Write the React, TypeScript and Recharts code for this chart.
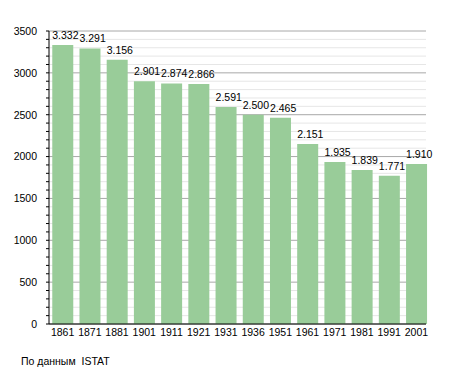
import React from 'react';
import { BarChart, Bar, XAxis, YAxis, CartesianGrid, LabelList } from 'recharts';

const years = ['1861', '1871', '1881', '1901', '1911', '1921', '1931', '1936', '1951', '1961', '1971', '1981', '1991', '2001'];
const population = [3332, 3291, 3156, 2901, 2874, 2866, 2591, 2500, 2465, 2151, 1935, 1839, 1771, 1910];
const yMajorTicks = [0, 500, 1000, 1500, 2000, 2500, 3000, 3500];
const yAllTicks = [0, 100, 200, 300, 400, 500, 600, 700, 800, 900, 1000, 1100, 1200, 1300, 1400, 1500, 1600, 1700, 1800, 1900, 2000, 2100, 2200, 2300, 2400, 2500, 2600, 2700, 2800, 2900, 3000, 3100, 3200, 3300, 3400, 3500];
const yMinorGrid = [100, 200, 300, 400, 600, 700, 800, 900, 1100, 1200, 1300, 1400, 1600, 1700, 1800, 1900, 2100, 2200, 2300, 2400, 2600, 2700, 2800, 2900, 3100, 3200, 3300, 3400];
const sourceText = 'По данным\u00a0\u00a0ISTAT';

const data = years.map((year, i) => ({ year, value: population[i] }));

const FONT = '"Liberation Sans", Arial, Helvetica, sans-serif';
const FS = 10.5;

const fmt = (v: number) => String(v).replace(/\B(?=(\d{3})+(?!\d))/g, '.');

const YTick = (props: any) => {
  const { x, y, payload } = props;
  if (payload.value % 500 !== 0) return <g />;
  return (
    <text x={x} y={y} dy={3.8} textAnchor="end" fontSize={FS} fontFamily={FONT} fill="#000">
      {payload.value}
    </text>
  );
};

const XTick = (props: any) => {
  const { x, y, payload } = props;
  return (
    <text x={x} y={y} dy={8} textAnchor="middle" fontSize={FS} fontFamily={FONT} fill="#000">
      {payload.value}
    </text>
  );
};

const ValueLabel = (props: any) => {
  const { x, y, value } = props;
  return (
    <text x={x} y={y - 6} fontSize={FS} fontFamily={FONT} fill="#000">
      {fmt(value)}
    </text>
  );
};

export default function App() {
  return (
    <div style={{ position: 'relative', width: 447, height: 365 }}>
      <BarChart
        width={447}
        height={365}
        data={data}
        margin={{ top: 23, right: 29, bottom: 29, left: 0 }}
        barCategoryGap="12%"
      >
        <CartesianGrid vertical={false} horizontalValues={yMinorGrid} stroke="#e6e6e6" strokeWidth={1} />
        <CartesianGrid vertical={false} horizontalValues={yMajorTicks} stroke="#a8a8a8" strokeWidth={1} />
        <XAxis
          dataKey="year"
          height={20}
          axisLine={{ stroke: '#000' }}
          tickLine={false}
          tickSize={0}
          tick={<XTick />}
          tickMargin={4}
          interval={0}
          padding={{ left: 0, right: -4 }}
        />
        <YAxis
          width={41}
          domain={[0, 3500]}
          ticks={yAllTicks}
          interval={0}
          axisLine={{ stroke: '#000' }}
          tickLine={{ stroke: '#000' }}
          tickSize={3}
          tickMargin={9}
          tick={<YTick />}
        />
        <Bar dataKey="value" fill="#99cc99" isAnimationActive={false}>
          <LabelList dataKey="value" content={<ValueLabel />} />
        </Bar>
      </BarChart>
      <div
        style={{
          position: 'absolute',
          left: 13,
          top: 347,
          fontFamily: FONT,
          fontSize: FS,
          color: '#000',
          whiteSpace: 'pre',
        }}
      >
        {sourceText}
      </div>
    </div>
  );
}
